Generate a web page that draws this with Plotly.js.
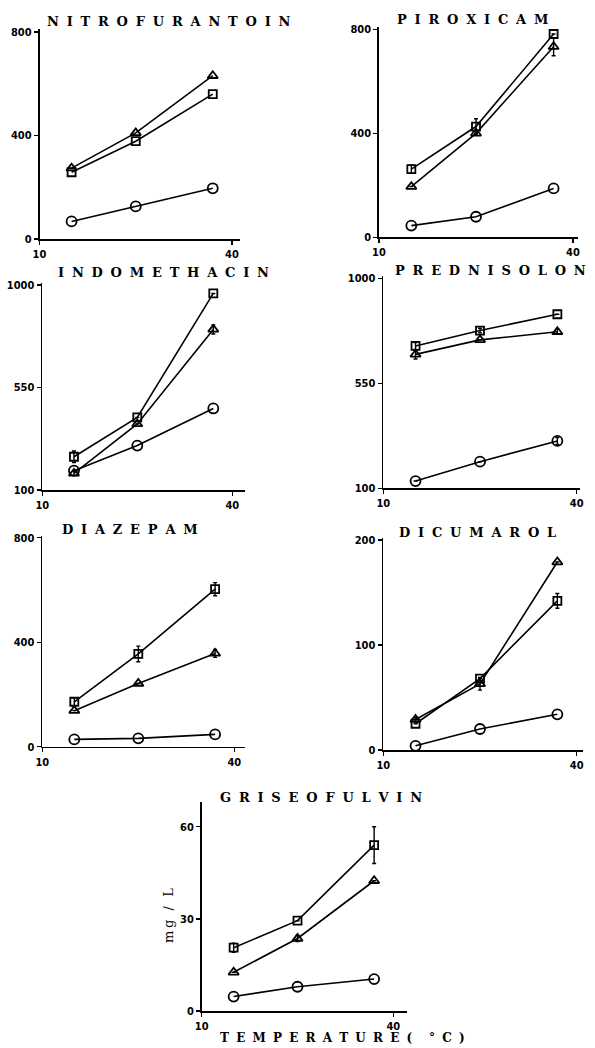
<!DOCTYPE html>
<html>
<head>
<meta charset="utf-8">
<script src="https://cdn.plot.ly/plotly-3.0.1.min.js"></script>
<style>html,body{margin:0;padding:0;background:#fff;}#chart{width:595px;height:1048px;}</style>
</head>
<body>
<div id="chart"></div>
<script>
// ---------- DATA ----------
const temps = [15, 25, 37];
const xTicks = [10, 40];

const nitroCircle   = [68, 126, 196];
const nitroTriangle = [274, 410, 631];
const nitroSquare   = [258, 378, 560];
const nitroCircleErr = [0, 0, 0];
const nitroTriangleErr = [0, 0, 0];
const nitroSquareErr = [0, 0, 0];
const nitroYTicks = [0, 400, 800];

const piroCircle   = [45, 79, 188];
const piroTriangle = [195, 400, 733];
const piroSquare   = [262, 426, 782];
const piroCircleErr = [0, 0, 0];
const piroTriangleErr = [0, 0, 35];
const piroSquareErr = [15, 30, 0];
const piroYTicks = [0, 400, 800];

const indoCircle   = [185, 295, 458];
const indoTriangle = [173, 390, 805];
const indoSquare   = [246, 419, 963];
const indoCircleErr = [0, 0, 0];
const indoTriangleErr = [10, 0, 20];
const indoSquareErr = [25, 0, 0];
const indoYTicks = [100, 550, 1000];

const predCircle   = [131, 214, 303];
const predTriangle = [674, 736, 771];
const predSquare   = [710, 776, 846];
const predCircleErr = [0, 0, 15];
const predTriangleErr = [20, 0, 10];
const predSquareErr = [15, 10, 0];
const predYTicks = [100, 550, 1000];

const diazCircle   = [28, 32, 47];
const diazTriangle = [138, 242, 357];
const diazSquare   = [172, 355, 603];
const diazCircleErr = [0, 0, 0];
const diazTriangleErr = [0, 0, 15];
const diazSquareErr = [15, 30, 25];
const diazYTicks = [0, 400, 800];

const dicuCircle   = [4, 20, 34];
const dicuTriangle = [29, 63, 179];
const dicuSquare   = [25, 68, 142];
const dicuCircleErr = [0, 0, 0];
const dicuTriangleErr = [2, 6, 0];
const dicuSquareErr = [0, 0, 7];
const dicuYTicks = [0, 100, 200];

const grisCircle   = [4.7, 7.9, 10.4];
const grisTriangle = [12.6, 23.6, 42.4];
const grisSquare   = [20.6, 29.4, 54];
const grisCircleErr = [0, 0, 0];
const grisTriangleErr = [0, 1, 0];
const grisSquareErr = [1.5, 0, 6];
const grisYTicks = [0, 30, 60];

const titles = ['NITROFURANTOIN', 'PIROXICAM', 'INDOMETHACIN', 'PREDNISOLON', 'DIAZEPAM', 'DICUMAROL', 'GRISEOFULVIN'];
const xAxisTitle = 'TEMPERATURE( °C)';
const yAxisTitle = 'mg / L';

// ---------- LAYOUT GEOMETRY (pixels) ----------
const W = 595, H = 1048;
const panels = [
  {c: nitroCircle, t: nitroTriangle, s: nitroSquare, ce: nitroCircleErr, te: nitroTriangleErr, se: nitroSquareErr, yt: nitroYTicks,
   g: {x10: 39.5, x40: 232, xEnd: 240, yLoPx: 239, yHiPx: 32, yTop: 29}, title: {x: 169, y: 21}},
  {c: piroCircle, t: piroTriangle, s: piroSquare, ce: piroCircleErr, te: piroTriangleErr, se: piroSquareErr, yt: piroYTicks,
   g: {x10: 379, x40: 573, xEnd: 578, yLoPx: 237.3, yHiPx: 29.3, yTop: 27}, title: {x: 473, y: 19.5}},
  {c: indoCircle, t: indoTriangle, s: indoSquare, ce: indoCircleErr, te: indoTriangleErr, se: indoSquareErr, yt: indoYTicks,
   g: {x10: 42.3, x40: 232.3, xEnd: 245, yLoPx: 490, yHiPx: 285, yTop: 283}, title: {x: 163, y: 272.7}},
  {c: predCircle, t: predTriangle, s: predSquare, ce: predCircleErr, te: predTriangleErr, se: predSquareErr, yt: predYTicks,
   g: {x10: 383.3, x40: 576.7, xEnd: 580, yLoPx: 488.3, yHiPx: 278.3, yTop: 276}, title: {x: 490, y: 270}},
  {c: diazCircle, t: diazTriangle, s: diazSquare, ce: diazCircleErr, te: diazTriangleErr, se: diazSquareErr, yt: diazYTicks,
   g: {x10: 42.3, x40: 234.3, xEnd: 245, yLoPx: 746.7, yHiPx: 537.7, yTop: 536}, title: {x: 130, y: 529.7}},
  {c: dicuCircle, t: dicuTriangle, s: dicuSquare, ce: dicuCircleErr, te: dicuTriangleErr, se: dicuSquareErr, yt: dicuYTicks,
   g: {x10: 383.3, x40: 576.7, xEnd: 583, yLoPx: 750, yHiPx: 540, yTop: 538}, title: {x: 477, y: 532.7}},
  {c: grisCircle, t: grisTriangle, s: grisSquare, ce: grisCircleErr, te: grisTriangleErr, se: grisSquareErr, yt: grisYTicks,
   g: {x10: 201.7, x40: 393.3, xEnd: 406.7, yLoPx: 1011, yHiPx: 826.7, yTop: 802}, title: {x: 321, y: 797.5}}
];

const spaced = s => s.split('').map(ch => ch === ' ' ? '\u2009' : ch).join('\u2002\u200a');
const titleFont = {family: 'DejaVu Serif, serif', size: 13, color: '#000', weight: 'bold'};
const tickFont = {family: 'Liberation Sans Narrow, DejaVu Sans Condensed, Roboto, sans-serif', size: 11, color: '#000', weight: 'bold'};

const traces = [];
const layout = {
  width: W, height: H, margin: {l: 0, r: 0, t: 0, b: 0},
  paper_bgcolor: '#fff', plot_bgcolor: 'rgba(0,0,0,0)', showlegend: false,
  annotations: []
};

const series = [
  {key: 'c', err: 'ce', symbol: 'circle-open', size: 10},
  {key: 't', err: 'te', symbol: 'triangle-up-open', size: 9},
  {key: 's', err: 'se', symbol: 'square-open', size: 8}
];

panels.forEach((p, i) => {
  const n = i === 0 ? '' : String(i + 1);
  const g = p.g;
  const yLoVal = p.yt[0], yHiVal = p.yt[p.yt.length - 1];
  const xr = [10, 10 + (g.xEnd - g.x10) * 30 / (g.x40 - g.x10)];
  const sc = (yHiVal - yLoVal) / (g.yLoPx - g.yHiPx);
  const yr = [yLoVal, yLoVal + (g.yLoPx - g.yTop) * sc];
  const common = {
    showline: true, linecolor: '#000', linewidth: 1.7, mirror: false,
    ticks: 'outside', ticklen: 4, tickwidth: 1.4, tickcolor: '#000',
    showgrid: false, zeroline: false, fixedrange: true, tickfont: tickFont
  };
  layout['xaxis' + n] = Object.assign({}, common, {
    domain: [g.x10 / W, g.xEnd / W], range: xr, anchor: 'y' + n,
    tickmode: 'array', tickvals: xTicks, ticktext: xTicks.map(String), ticklabelstandoff: 0
  });
  layout['yaxis' + n] = Object.assign({}, common, {
    domain: [1 - g.yLoPx / H, 1 - g.yTop / H], range: yr, anchor: 'x' + n,
    tickmode: 'array', tickvals: p.yt, ticktext: p.yt.map(String), ticklabelstandoff: 0
  });
  series.forEach(sr => {
    const errs = p[sr.err];
    traces.push({
      type: 'scatter', mode: 'lines+markers', x: temps, y: p[sr.key],
      xaxis: 'x' + n, yaxis: 'y' + n, cliponaxis: false,
      line: {color: '#000', width: 1.6},
      marker: {symbol: sr.symbol, size: sr.size, color: '#000', line: {width: 1.8, color: '#000'}},
      error_y: {type: 'data', array: errs, visible: errs.some(v => v > 0), color: '#000', thickness: 1.4, width: 2},
      hoverinfo: 'skip'
    });
  });
  layout.annotations.push({
    text: spaced(titles[i]), xref: 'paper', yref: 'paper',
    x: p.title.x / W, y: 1 - p.title.y / H, xanchor: 'center', yanchor: 'middle',
    showarrow: false, font: titleFont
  });
});

layout.annotations.push({
  text: spaced(xAxisTitle), xref: 'paper', yref: 'paper',
  x: 342 / W, y: 1 - 1038 / H, xanchor: 'center', yanchor: 'middle', showarrow: false,
  font: {family: 'DejaVu Serif, serif', size: 12, color: '#000', weight: 'bold'}
});
layout.annotations.push({
  text: yAxisTitle.split('').join('\u2009'), xref: 'paper', yref: 'paper', textangle: -90,
  x: 168 / W, y: 1 - 916 / H, xanchor: 'center', yanchor: 'middle', showarrow: false,
  font: {family: 'DejaVu Serif, serif', size: 13, color: '#000'}
});

Plotly.newPlot('chart', traces, layout, {staticPlot: true, displayModeBar: false});
</script>
</body>
</html>
